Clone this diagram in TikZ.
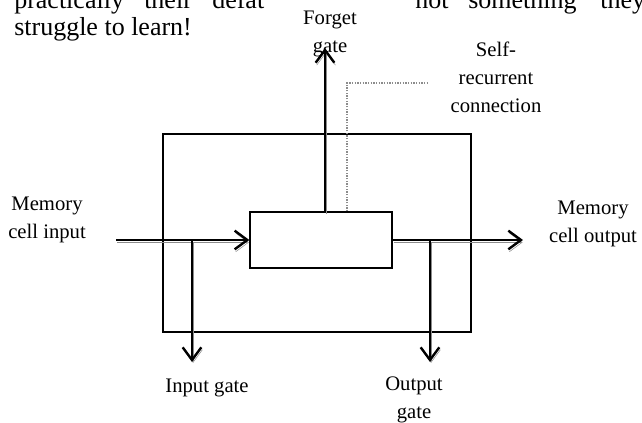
\documentclass[tikz,border=0pt]{standalone}
\usepackage{fontspec}
\setmainfont{Liberation Serif}
\usetikzlibrary{arrows.meta,positioning,calc}

\begin{document}
\begin{tikzpicture}[
  x=0.75pt, y=-0.75pt,
  body/.style={font=\fontsize{19.5}{20}\selectfont, inner sep=0pt, anchor=base west},
  lbl/.style={font=\fontsize{15.5}{21}\selectfont, align=center, inner sep=0pt, anchor=base},
  cellbox/.style={draw, line width=0.8pt, minimum width=231pt, minimum height=148.5pt, inner sep=0pt},
  corebox/.style={draw, line width=1pt, minimum width=106.5pt, minimum height=42pt, inner sep=0pt},
  flow/.style={line width=1.8pt, -{Straight Barb[length=9.5pt, width=14pt]},
               preaction={draw=black!45, transform canvas={shift={(0.8pt,-1.8pt)}}}},
  loopback/.style={draw=black!45, densely dotted, line width=1pt},
]

\def\igx{192} \def\ogx{430} \def\fgx{325} \def\srx{347} \def\ly{240}

\useasboundingbox (0,0) rectangle (642,422);
\clip (0,0) rectangle (642,422);

% running text of the page
\foreach \w/\x in {practically/14, their/144, defat/212, not/415, something/468, they/600}
  \node[body] (t\x) at (\x,8) {\w};
\node[body] (t2) at (14,35) {struggle to learn!};

% cell and its core
\node[cellbox] (cell) at (317,233) {};
\node[corebox] (core) at (321,\ly) {};

% labels (anchored at the last line)
\node[lbl] (fglbl) at (330,52) {Forget\\gate};
\node[lbl] (srlbl) at (496,112) {Self-\\recurrent\\connection};
\node[lbl] (inlbl) at (47,238) {Memory\\cell input};
\node[lbl] (outlbl) at (593,242) {Memory\\cell output};
\node[lbl] (iglbl) at (207,392) {Input gate};
\node[lbl] (oglbl) at (414,418) {Output\\gate};

% end points
\coordinate (inp) at (116,\ly);
\coordinate (outp) at (523,\ly);
\coordinate (igtop) at (\igx,\ly);
\coordinate (ig) at (\igx,362);
\coordinate (ogtop) at (\ogx,\ly);
\coordinate (og) at (\ogx,362);
\coordinate (fg) at (\fgx,48);
\coordinate (srbend) at (\srx,83);
\coordinate (sr) at (429,83);

% --- flows ---
\draw[flow] (inp) -- (core.west);
\draw[flow] (core.east) -- (outp);
\draw[flow] (igtop) -- (ig);
\draw[flow] (ogtop) -- (og);
\draw[flow] (fg |- core.north) -- (fg);
\draw[loopback] (srbend |- core.north) -- (srbend) -- (sr);

\end{tikzpicture}
\end{document}
